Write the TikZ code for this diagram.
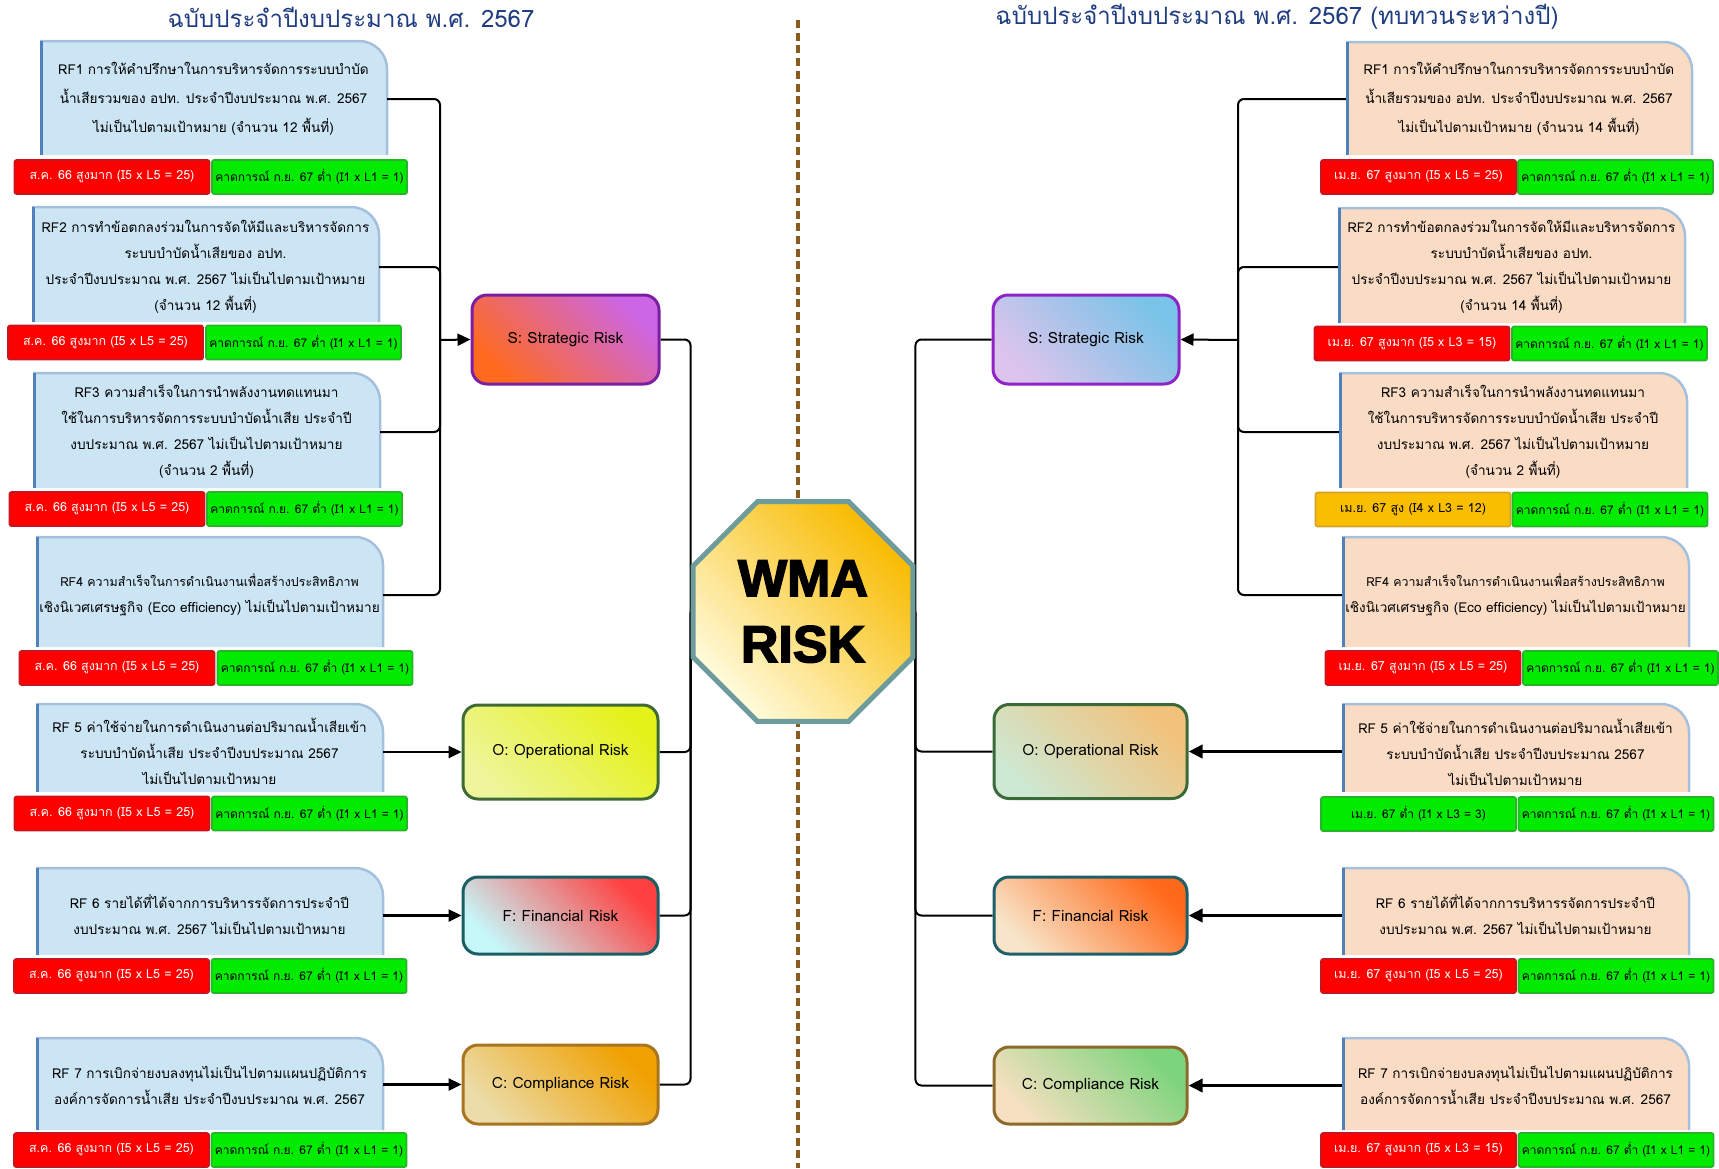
\documentclass[tikz,border=0pt]{standalone}
\usepackage{fontspec}
\setmainfont[Script=Thai]{Loma}
\newfontfamily\wmafont[FakeBold=3]{Liberation Sans Bold}
\usetikzlibrary{shapes.geometric,arrows.meta}

\definecolor{titleblue}{RGB}{31,61,128}
\definecolor{divbrown}{RGB}{139,90,30}
\definecolor{boxblue}{RGB}{204,229,245}
\definecolor{boxpeach}{RGB}{250,220,196}
\definecolor{rimdark}{RGB}{79,129,189}
\definecolor{rimlight}{RGB}{164,192,220}
\definecolor{tagred}{RGB}{255,0,0}
\definecolor{tagredrim}{RGB}{200,20,30}
\definecolor{taggreen}{RGB}{0,235,0}
\definecolor{taggreenrim}{RGB}{40,180,40}
\definecolor{tagamber}{RGB}{250,190,0}
\definecolor{tagamberrim}{RGB}{215,160,40}
% category colours
\definecolor{slA}{HTML}{FF6A1F}\definecolor{slB}{HTML}{F79486}\definecolor{slC}{HTML}{CC66E6}\definecolor{slD}{HTML}{7B1FA2}
\definecolor{olA}{HTML}{EEF59A}\definecolor{olB}{HTML}{A8DFA0}\definecolor{olC}{HTML}{E5F21A}\definecolor{olD}{HTML}{3E6B35}
\definecolor{flA}{HTML}{C6F8FA}\definecolor{flB}{HTML}{F7C8A0}\definecolor{flC}{HTML}{FF4040}\definecolor{flD}{HTML}{1B5E63}
\definecolor{clA}{HTML}{EBDCA8}\definecolor{clB}{HTML}{CCC800}\definecolor{clC}{HTML}{F0A000}\definecolor{clD}{HTML}{A87420}
\definecolor{srA}{HTML}{DDC4EC}\definecolor{srB}{HTML}{A6D8F0}\definecolor{srC}{HTML}{7AC3E8}\definecolor{srD}{HTML}{8E24C8}
\definecolor{orA}{HTML}{CDE8D2}\definecolor{orB}{HTML}{F5D09A}\definecolor{orC}{HTML}{F2C27A}\definecolor{orD}{HTML}{3A6A3A}
\definecolor{frA}{HTML}{F8E4C8}\definecolor{frB}{HTML}{F7A09A}\definecolor{frC}{HTML}{FF6A1A}\definecolor{frD}{HTML}{1E5F6A}
\definecolor{crA}{HTML}{F6E0C0}\definecolor{crB}{HTML}{A8DFA0}\definecolor{crC}{HTML}{7CD47C}\definecolor{crD}{HTML}{8B6A2A}
\definecolor{octA}{HTML}{FFFBDC}\definecolor{octB}{HTML}{F8BB00}\definecolor{octrim}{HTML}{6E9C9C}

\pgfdeclarelayer{background}
\pgfsetlayers{background,main}

\tikzset{
  titletext/.style={text=titleblue, inner sep=0pt, font=\fontsize{24}{27}\selectfont},
  divider/.style={draw=divbrown, line width=3.3pt, dash pattern=on 8pt off 4.7pt},
  rftext/.style={inner sep=0pt, align=center, font=\fontsize{13.6}{26}\selectfont},
  rimtop/.style={draw=rimlight, line width=2.5pt},
  rimleft/.style={draw=rimdark, line width=3pt},
  tagbox/.style={rectangle, rounded corners=2pt, line width=1.6pt, minimum width=195pt,
    minimum height=34pt, inner sep=0pt, font=\fontsize{12.5}{14}\selectfont},
  redtag/.style={tagbox, fill=tagred, draw=tagredrim, text=white},
  greentag/.style={tagbox, fill=taggreen, draw=taggreenrim, text=black, font=\fontsize{12}{14}\selectfont},
  ambertag/.style={tagbox, fill=tagamber, draw=tagamberrim, text=black},
  catbox/.style={rectangle, rounded corners=15pt, line width=3pt, inner sep=0pt,
    font=\fontsize{15.5}{18}\selectfont},
  catfill/.style n args={4}{draw=#4, left color=#1, middle color=#2, right color=#3, shading angle=135},
  wire/.style={line width=2pt, rounded corners=6pt},
  hubarrow/.style={line width=2pt, -{Triangle[length=13pt,width=12pt]}},
  feedarrow/.style={line width=2.5pt, -{Triangle[length=13pt,width=12pt]}},
  feedthick/.style={line width=3.5pt, -{Triangle[length=14pt,width=13pt]}},
}

% name, x1, y1, x2, y2, fill, text y, text
\newcommand{\riskbox}[8]{%
  \fill[#6] (#2,-#5) -- (#2,-#3) -- ({#4-28},-#3) arc[start angle=90,end angle=0,radius=28pt] -- (#4,-#5) -- cycle;
  \draw[rimtop] (#2,-#3) -- ({#4-28},-#3) arc[start angle=90,end angle=0,radius=28pt] -- (#4,-#5);
  \draw[rimleft] ({#2+1.5},-#5) -- ({#2+1.5},-#3);
  \node[rftext, minimum width={(#4-#2)*1pt}] (#1) at ({(#2+#4)/2},-#7) {#8};
}

\begin{document}
\begin{tikzpicture}[x=1pt,y=1pt]
\useasboundingbox (0,0) rectangle (1719,-1168);

\coordinate (divTop) at (798,-20);
\coordinate (divBot) at (798,-1168);
\draw[divider] (divTop) -- (divBot);

\node[titletext] (titleL) at (351,-17) {ฉบับประจำปีงบประมาณ พ.ศ. 2567};
\node[titletext] (titleR) at (1277,-17) {ฉบับประจำปีงบประมาณ พ.ศ. 2567 (ทบทวนระหว่างปี)};

% left: annual plan
\riskbox{L1}{40}{41}{387}{155}{boxblue}{99}{RF1 การให้คำปรึกษาในการบริหารจัดการระบบบำบัด\\[3pt]น้ำเสียรวมของ อปท. ประจำปีงบประมาณ พ.ศ. 2567\\[3pt]ไม่เป็นไปตามเป้าหมาย (จำนวน 12 พื้นที่)}
\riskbox{L2}{32}{207}{379}{322}{boxblue}{267}{RF2 การทำข้อตกลงร่วมในการจัดให้มีและบริหารจัดการ\\ระบบบำบัดน้ำเสียของ อปท.\\ประจำปีงบประมาณ พ.ศ. 2567 ไม่เป็นไปตามเป้าหมาย\\(จำนวน 12 พื้นที่)}
\riskbox{L3}{33}{373}{380}{488}{boxblue}{432}{RF3 ความสำเร็จในการนำพลังงานทดแทนมา\\ใช้ในการบริหารจัดการระบบบำบัดน้ำเสีย ประจำปี\\งบประมาณ พ.ศ. 2567 ไม่เป็นไปตามเป้าหมาย\\(จำนวน 2 พื้นที่)}
\riskbox{L4}{36}{537}{383}{647}{boxblue}{595}{\fontsize{12.4}{27}\selectfont RF4 ความสำเร็จในการดำเนินงานเพื่อสร้างประสิทธิภาพ\\เชิงนิเวศเศรษฐกิจ (Eco efficiency) ไม่เป็นไปตามเป้าหมาย}
\riskbox{L5}{36}{704}{383}{792}{boxblue}{751}{RF 5 ค่าใช้จ่ายในการดำเนินงานต่อปริมาณน้ำเสียเข้า\\ระบบบำบัดน้ำเสีย ประจำปีงบประมาณ 2567\\ไม่เป็นไปตามเป้าหมาย}
\riskbox{L6}{36}{868}{383}{955}{boxblue}{915}{RF 6 รายได้ที่ได้จากการบริหารรจัดการประจำปี\\งบประมาณ พ.ศ. 2567 ไม่เป็นไปตามเป้าหมาย}
\riskbox{L7}{36}{1038}{383}{1130}{boxblue}{1085}{RF 7 การเบิกจ่ายงบลงทุนไม่เป็นไปตามแผนปฏิบัติการ\\องค์การจัดการน้ำเสีย ประจำปีงบประมาณ พ.ศ. 2567}

% right: mid-year review
\riskbox{R1}{1346}{42}{1692}{155}{boxpeach}{99}{RF1 การให้คำปรึกษาในการบริหารจัดการระบบบำบัด\\[3pt]น้ำเสียรวมของ อปท. ประจำปีงบประมาณ พ.ศ. 2567\\[3pt]ไม่เป็นไปตามเป้าหมาย (จำนวน 14 พื้นที่)}
\riskbox{R2}{1338}{208}{1685}{323}{boxpeach}{267}{RF2 การทำข้อตกลงร่วมในการจัดให้มีและบริหารจัดการ\\ระบบบำบัดน้ำเสียของ อปท.\\ประจำปีงบประมาณ พ.ศ. 2567 ไม่เป็นไปตามเป้าหมาย\\(จำนวน 14 พื้นที่)}
\riskbox{R3}{1339}{373}{1687}{488}{boxpeach}{432}{RF3 ความสำเร็จในการนำพลังงานทดแทนมา\\ใช้ในการบริหารจัดการระบบบำบัดน้ำเสีย ประจำปี\\งบประมาณ พ.ศ. 2567 ไม่เป็นไปตามเป้าหมาย\\(จำนวน 2 พื้นที่)}
\riskbox{R4}{1342}{537}{1689}{647}{boxpeach}{595}{\fontsize{12.4}{27}\selectfont RF4 ความสำเร็จในการดำเนินงานเพื่อสร้างประสิทธิภาพ\\เชิงนิเวศเศรษฐกิจ (Eco efficiency) ไม่เป็นไปตามเป้าหมาย}
\riskbox{R5}{1342}{704}{1689}{792}{boxpeach}{752}{RF 5 ค่าใช้จ่ายในการดำเนินงานต่อปริมาณน้ำเสียเข้า\\ระบบบำบัดน้ำเสีย ประจำปีงบประมาณ 2567\\ไม่เป็นไปตามเป้าหมาย}
\riskbox{R6}{1342}{868}{1689}{955}{boxpeach}{915}{RF 6 รายได้ที่ได้จากการบริหารรจัดการประจำปี\\งบประมาณ พ.ศ. 2567 ไม่เป็นไปตามเป้าหมาย}
\riskbox{R7}{1342}{1038}{1689}{1130}{boxpeach}{1085}{RF 7 การเบิกจ่ายงบลงทุนไม่เป็นไปตามแผนปฏิบัติการ\\องค์การจัดการน้ำเสีย ประจำปีงบประมาณ พ.ศ. 2567}

% risk levels
\node[redtag] (L1r) at (112,-177) {ส.ค. 66 สูงมาก (I5 x L5 = 25)};
\node[greentag] (L1g) at (309.5,-177) {คาดการณ์ ก.ย. 67 ต่ำ (I1 x L1 = 1)};
\node[redtag] (L2r) at (105.5,-342.5) {ส.ค. 66 สูงมาก (I5 x L5 = 25)};
\node[greentag] (L2g) at (303.5,-342.5) {คาดการณ์ ก.ย. 67 ต่ำ (I1 x L1 = 1)};
\node[redtag] (L3r) at (107,-509) {ส.ค. 66 สูงมาก (I5 x L5 = 25)};
\node[greentag] (L3g) at (304.5,-509) {คาดการณ์ ก.ย. 67 ต่ำ (I1 x L1 = 1)};
\node[redtag] (L4r) at (117,-668) {ส.ค. 66 สูงมาก (I5 x L5 = 25)};
\node[greentag] (L4g) at (315,-668) {คาดการณ์ ก.ย. 67 ต่ำ (I1 x L1 = 1)};
\node[redtag] (L5r) at (112,-813.5) {ส.ค. 66 สูงมาก (I5 x L5 = 25)};
\node[greentag] (L5g) at (309.5,-813.5) {คาดการณ์ ก.ย. 67 ต่ำ (I1 x L1 = 1)};
\node[redtag] (L6r) at (111.5,-976) {ส.ค. 66 สูงมาก (I5 x L5 = 25)};
\node[greentag] (L6g) at (309,-976) {คาดการณ์ ก.ย. 67 ต่ำ (I1 x L1 = 1)};
\node[redtag] (L7r) at (111.5,-1150) {ส.ค. 66 สูงมาก (I5 x L5 = 25)};
\node[greentag] (L7g) at (309,-1150) {คาดการณ์ ก.ย. 67 ต่ำ (I1 x L1 = 1)};

\node[redtag] (R1r) at (1418.5,-177) {เม.ย. 67 สูงมาก (I5 x L5 = 25)};
\node[greentag] (R1g) at (1615.5,-177) {คาดการณ์ ก.ย. 67 ต่ำ (I1 x L1 = 1)};
\node[redtag] (R2r) at (1412,-343.5) {เม.ย. 67 สูงมาก (I5 x L3 = 15)};
\node[greentag] (R2g) at (1609.5,-343.5) {คาดการณ์ ก.ย. 67 ต่ำ (I1 x L1 = 1)};
\node[ambertag] (R3r) at (1413,-509.5) {เม.ย. 67 สูง (I4 x L3 = 12)};
\node[greentag] (R3g) at (1610,-509.5) {คาดการณ์ ก.ย. 67 ต่ำ (I1 x L1 = 1)};
\node[redtag] (R4r) at (1423,-668) {เม.ย. 67 สูงมาก (I5 x L5 = 25)};
\node[greentag] (R4g) at (1620.5,-668) {คาดการณ์ ก.ย. 67 ต่ำ (I1 x L1 = 1)};
\node[greentag] (R5r) at (1418.5,-814) {เม.ย. 67 ต่ำ (I1 x L3 = 3)};
\node[greentag] (R5g) at (1616,-814) {คาดการณ์ ก.ย. 67 ต่ำ (I1 x L1 = 1)};
\node[redtag] (R6r) at (1418.5,-976) {เม.ย. 67 สูงมาก (I5 x L5 = 25)};
\node[greentag] (R6g) at (1616,-976) {คาดการณ์ ก.ย. 67 ต่ำ (I1 x L1 = 1)};
\node[redtag] (R7r) at (1418.5,-1150) {เม.ย. 67 สูงมาก (I5 x L3 = 15)};
\node[greentag] (R7g) at (1616,-1150) {คาดการณ์ ก.ย. 67 ต่ำ (I1 x L1 = 1)};

% risk categories
\node[catbox, catfill={slA}{slB}{slC}{slD}, minimum width=187pt, minimum height=89pt] (SL) at (565.5,-339.5) {S: Strategic Risk};
\node[catbox, catfill={olA}{olB}{olC}{olD}, minimum width=195pt, minimum height=94pt] (OL) at (560.5,-752) {O: Operational Risk};
\node[catbox, catfill={flA}{flB}{flC}{flD}, minimum width=195pt, minimum height=77pt] (FL) at (560.5,-915.5) {F: Financial Risk};
\node[catbox, catfill={clA}{clB}{clC}{clD}, minimum width=195pt, minimum height=79pt] (CL) at (560.5,-1084.5) {C: Compliance Risk};
\node[catbox, catfill={srA}{srB}{srC}{srD}, minimum width=186pt, minimum height=89pt] (SR) at (1086,-339.5) {S: Strategic Risk};
\node[catbox, catfill={orA}{orB}{orC}{orD}, minimum width=193pt, minimum height=94pt] (OR) at (1090.5,-751.5) {O: Operational Risk};
\node[catbox, catfill={frA}{frB}{frC}{frD}, minimum width=193pt, minimum height=77pt] (FR) at (1090.5,-915.5) {F: Financial Risk};
\node[catbox, catfill={crA}{crB}{crC}{crD}, minimum width=193pt, minimum height=77pt] (CR) at (1090.5,-1085.5) {C: Compliance Risk};

\node[regular polygon, regular polygon sides=8, minimum size=238pt, inner sep=0pt,
  draw=octrim, line width=5pt, left color=octA, right color=octB, shading angle=135,
  align=center, font=\wmafont\fontsize{52}{66}\selectfont] (WMA) at (803,-611.5) {WMA\\RISK};

% connectors
\coordinate (busL) at (440,-340);
\coordinate (busR) at (1238,-340);
\begin{pgfonlayer}{background}
\foreach \n in {SL,OL,FL,CL} \draw[wire] (\n.east) -| (WMA.west);
\foreach \n in {SR,OR,FR,CR} \draw[wire] (\n.west) -| (WMA.east);
\end{pgfonlayer}
\foreach \n in {L1,L2,L3,L4} \draw[wire] (\n.east) -| (busL);
\draw[hubarrow] (busL) -- (SL.west);
\draw[feedarrow] (L5.east |- OL.west) -- (OL.west);
\draw[feedarrow] (L6.east |- FL.west) -- (FL.west);
\draw[feedarrow] (L7.east |- CL.west) -- (CL.west);
\foreach \n in {R1,R2,R3,R4} \draw[wire] (\n.west) -| (busR);
\draw[hubarrow] (busR) -- (SR.east);
\draw[feedthick] (R5.west |- OR.east) -- (OR.east);
\draw[feedthick] (R6.west |- FR.east) -- (FR.east);
\draw[feedthick] (R7.west |- CR.east) -- (CR.east);
\end{tikzpicture}
\end{document}
